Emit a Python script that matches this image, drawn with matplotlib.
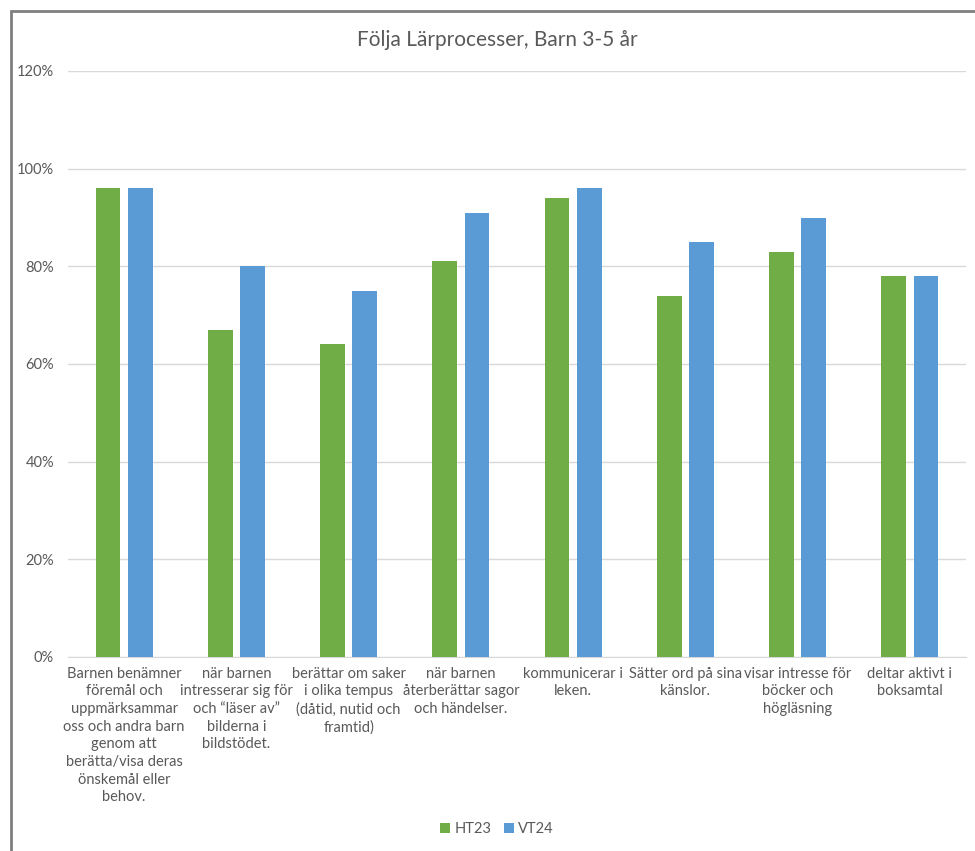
import numpy as np
import matplotlib.pyplot as plt
from matplotlib.patches import Rectangle
from matplotlib.ticker import FuncFormatter

plt.rcParams['font.family'] = ['Lato', 'DejaVu Sans']

# Data
categories = [
    'Barnen benämner\nföremål och\nuppmärksammar\noss och andra barn\ngenom att\nberätta/visa deras\nönskemål eller\nbehov.',
    'när barnen\nintresserar sig för\noch “läser av”\nbilderna i\nbildstödet.',
    'berättar om saker\ni olika tempus\n(dåtid, nutid och\nframtid)',
    'när barnen\nåterberättar sagor\noch händelser.',
    'kommunicerar i\nleken.',
    'Sätter ord på sina\nkänslor.',
    'visar intresse för\nböcker och\nhögläsning',
    'deltar aktivt i\nboksamtal',
]
ht23 = [0.96, 0.67, 0.64, 0.81, 0.94, 0.74, 0.83, 0.78]
vt24 = [0.96, 0.80, 0.75, 0.91, 0.96, 0.85, 0.90, 0.78]

green = '#70AD47'
blue = '#5B9BD5'
txt = '#595959'

fig = plt.figure(figsize=(9.75, 8.51), dpi=100)
ax = fig.add_axes([68/975, 1 - 657/851, 898/975, 586/851])

x = np.arange(len(categories))
w = 0.22
ax.bar(x - 0.143, ht23, w, color=green, label='HT23', zorder=3)
ax.bar(x + 0.143, vt24, w, color=blue, label='VT24', zorder=3)

ax.set_xlim(-0.5, len(categories) - 0.5)
ax.set_ylim(0, 1.2)
ax.set_yticks(np.arange(0, 1.21, 0.2))
ax.yaxis.set_major_formatter(FuncFormatter(lambda v, p: f'{v*100:.0f}%'))
ax.grid(axis='y', color='#D9D9D9', linewidth=1, zorder=0)
for s in ['top', 'right', 'left']:
    ax.spines[s].set_visible(False)
ax.spines['bottom'].set_color('#D9D9D9')
ax.tick_params(axis='both', length=0, colors=txt, labelsize=10.5)
ax.tick_params(axis='y', pad=10)
ax.set_xticks(x)
ax.set_xticklabels(categories, fontsize=10.5, color=txt, linespacing=1.33)
ax.tick_params(axis='x', pad=7)

fig.text(497/975, 1 - 40/851, 'Följa Lärprocesser, Barn 3-5 år', ha='center', va='center',
         fontsize=15, color=txt)

fig.legend(loc='center', bbox_to_anchor=(497/975, 1 - 829/851), ncol=2, frameon=False,
           fontsize=10.5, labelcolor=txt, handlelength=0.7, handleheight=0.7,
           handletextpad=0.3, columnspacing=0.8)

# outer chart border (left/top visible)
fig.patches.append(Rectangle((11/975, -0.05), 1.1, 1 - 11/851 + 0.05, transform=fig.transFigure,
                             fill=False, edgecolor='#7F7F7F', linewidth=2))

fig.savefig('out.png', dpi=100)
